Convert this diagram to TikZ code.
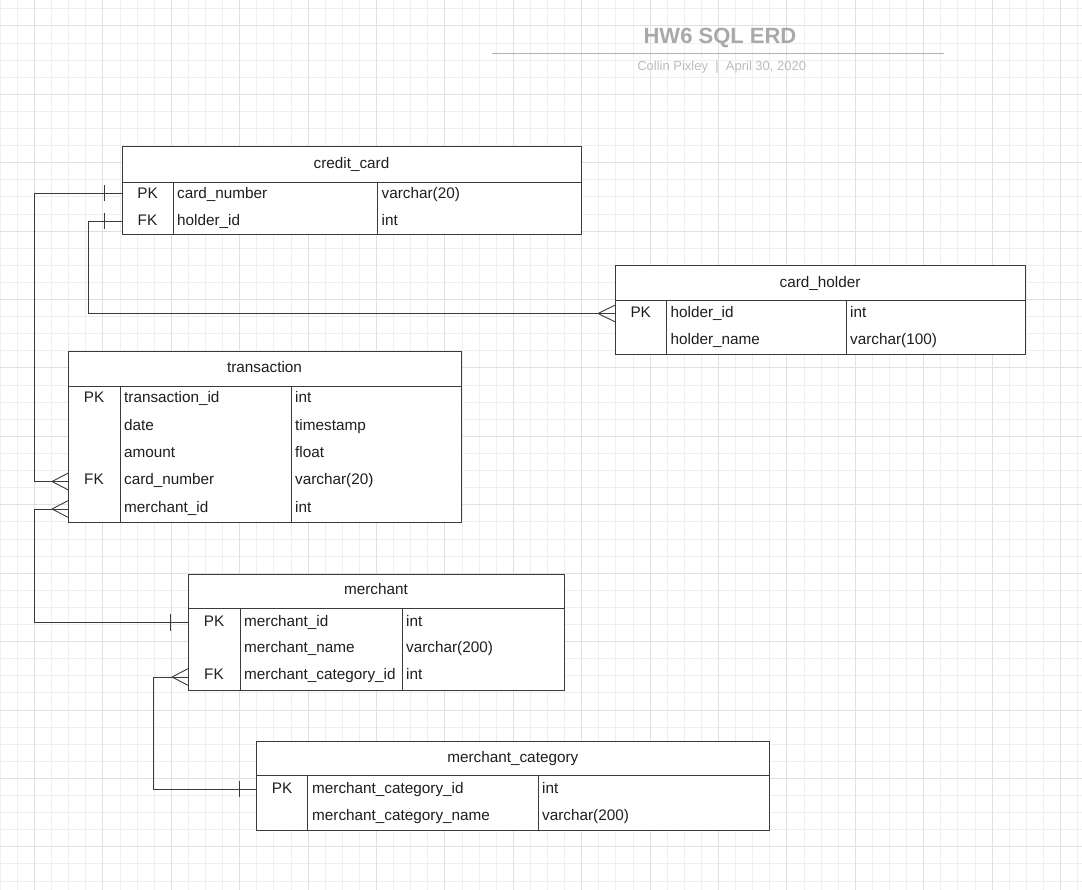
\documentclass[tikz,border=0pt]{standalone}
\usepackage{fontspec}
\setmainfont{Liberation Sans}
\usetikzlibrary{fit}
\definecolor{minorc}{HTML}{EFEFEF}
\definecolor{majorc}{HTML}{E0E0E0}
\definecolor{linec}{HTML}{3A3A3A}
\definecolor{textc}{HTML}{1E1E1E}
\definecolor{titlec}{HTML}{A9A9A9}
\definecolor{subc}{HTML}{BDBDBD}
\begin{document}
\begin{tikzpicture}[x=1pt,y=-1pt,
  tbl/.style={draw=linec, line width=1pt, fill=white, inner sep=0pt},
  tline/.style={draw=linec, line width=0.9pt},
  conn/.style={draw=linec, line width=0.9pt},
  txt/.style={font=\fontsize{15.3}{18}\selectfont, text=textc, inner sep=0pt, anchor=base},
  ltxt/.style={txt, anchor=base west},
  gminor/.style={draw=minorc, line width=1pt},
  gmajor/.style={draw=majorc, line width=1pt}]
\useasboundingbox (0,0) rectangle (1082,890);
\fill[white] (0,0) rectangle (1082,890);
% grid
\foreach \i in {0,...,63} \draw[gminor] ({0.3+17.1*\i},0) -- ++(0,890);
\foreach \i in {0,...,51} \draw[gminor] (0,{8.9+17.1*\i}) -- ++(1082,0);
\foreach \i in {0,...,15} \draw[gmajor] ({34.5+68.4*\i},0) -- ++(0,890);
\foreach \i in {0,...,12} \draw[gmajor] (0,{26+68.4*\i}) -- ++(1082,0);

% title
\node[font=\fontsize{22}{26}\selectfont\bfseries, text=titlec, inner sep=0pt, anchor=base] (title) at (720,43.3) {HW6 SQL ERD};
\coordinate (rl) at (492,53.5);
\coordinate (rr) at (944,53.5);
\draw[draw=titlec!90, line width=1.6pt] (rl) -- (rr);
\node[font=\fontsize{13}{16}\selectfont, text=subc, inner sep=0pt, anchor=base] (sub) at (721.7,71) {Collin Pixley\ \ |\ \ April 30, 2020};

% credit_card
\node[tbl, fit={(122,147)(581,235)}] (cc) {};
\draw[tline] (122,182) -- (581,182) (173,182) -- (173,235) (377.5,182) -- (377.5,235);
\node[txt] (cch) at (351.5,168.3) {credit\_card};
\node[txt] (cc1a) at (147.5,198.3) {PK};
\node[ltxt] (cc1b) at (177,198.3) {card\_number};
\node[ltxt] (cc1c) at (381.5,198.3) {varchar(20)};
\node[txt] (cc2a) at (147.5,226) {FK};
\node[ltxt] (cc2b) at (177,226) {holder\_id};
\node[ltxt] (cc2c) at (381.5,226) {int};
\coordinate (cc-r1) at (122,193.5);
\coordinate (cc-r2) at (122,221.5);

% card_holder
\node[tbl, fit={(615,266)(1025,355)}] (ch) {};
\draw[tline] (615,300.5) -- (1025,300.5) (666.5,300.5) -- (666.5,355) (846,300.5) -- (846,355);
\node[txt] (chh) at (820,287.7) {card\_holder};
\node[txt] (ch1a) at (640.7,317.7) {PK};
\node[ltxt] (ch1b) at (670.5,317.7) {holder\_id};
\node[ltxt] (ch1c) at (850,317.7) {int};
\node[ltxt] (ch2b) at (670.5,344.7) {holder\_name};
\node[ltxt] (ch2c) at (850,344.7) {varchar(100)};
\coordinate (ch-r1) at (615,313.5);

% transaction
\node[tbl, fit={(68,352)(461,522)}] (tx) {};
\draw[tline] (68,386) -- (461,386) (120,386) -- (120,522) (291,386) -- (291,522);
\node[txt] (txh) at (264.5,372.7) {transaction};
\node[txt] (tx1a) at (94,402.7) {PK};
\node[ltxt] (tx1b) at (124,402.7) {transaction\_id};
\node[ltxt] (tx1c) at (295,402.7) {int};
\node[ltxt] (tx2b) at (124,430.3) {date};
\node[ltxt] (tx2c) at (295,430.3) {timestamp};
\node[ltxt] (tx3b) at (124,457.7) {amount};
\node[ltxt] (tx3c) at (295,457.7) {float};
\node[txt] (tx4a) at (94,485) {FK};
\node[ltxt] (tx4b) at (124,485) {card\_number};
\node[ltxt] (tx4c) at (295,485) {varchar(20)};
\node[ltxt] (tx5b) at (124,512.5) {merchant\_id};
\node[ltxt] (tx5c) at (295,512.5) {int};
\coordinate (tx-r4) at (68,481.5);
\coordinate (tx-r5) at (68,509);

% merchant
\node[tbl, fit={(188,574)(564,690)}] (me) {};
\draw[tline] (188,608.5) -- (564,608.5) (240,608.5) -- (240,690) (402,608.5) -- (402,690);
\node[txt] (meh) at (376,594.7) {merchant};
\node[txt] (me1a) at (214,626) {PK};
\node[ltxt] (me1b) at (244,626) {merchant\_id};
\node[ltxt] (me1c) at (406,626) {int};
\node[ltxt] (me2b) at (244,652.7) {merchant\_name};
\node[ltxt] (me2c) at (406,652.7) {varchar(200)};
\node[txt] (me3a) at (214,679.3) {FK};
\node[ltxt] (me3b) at (244,679.3) {merchant\_category\_id};
\node[ltxt] (me3c) at (406,679.3) {int};
\coordinate (me-r1) at (188,622.3);
\coordinate (me-r3) at (188,677);

% merchant_category
\node[tbl, fit={(256.7,741)(769,830)}] (mc) {};
\draw[tline] (256.7,775.7) -- (769,775.7) (307.7,775.7) -- (307.7,830) (538,775.7) -- (538,830);
\node[txt] (mch) at (512.8,762.7) {merchant\_category};
\node[txt] (mc1a) at (282.2,793.3) {PK};
\node[ltxt] (mc1b) at (312,793.3) {merchant\_category\_id};
\node[ltxt] (mc1c) at (542,793.3) {int};
\node[ltxt] (mc2b) at (312,820) {merchant\_category\_name};
\node[ltxt] (mc2c) at (542,820) {varchar(200)};
\coordinate (mc-r1) at (256.7,789.3);

% connectors
\draw[conn] (cc-r1) -- ++(-88,0) |- (tx-r4);
\draw[conn] ([xshift=-18pt]cc-r1) ++(0,-8) -- ++(0,16);
\draw[conn] ([xshift=-16pt]tx-r4) -- ++(16,-8.3) ([xshift=-16pt]tx-r4) -- ++(16,8.3);

\draw[conn] (cc-r2) -- ++(-34,0) |- (ch-r1);
\draw[conn] ([xshift=-18pt]cc-r2) ++(0,-8) -- ++(0,16);
\draw[conn] ([xshift=-17pt]ch-r1) -- ++(17,-8.3) ([xshift=-17pt]ch-r1) -- ++(17,8.3);

\draw[conn] (tx-r5) -- ++(-34,0) |- (me-r1);
\draw[conn] ([xshift=-16pt]tx-r5) -- ++(16,-8.3) ([xshift=-16pt]tx-r5) -- ++(16,8.3);
\draw[conn] ([xshift=-17.5pt]me-r1) ++(0,-8.5) -- ++(0,17);

\draw[conn] (me-r3) -- ++(-35,0) |- (mc-r1);
\draw[conn] ([xshift=-16pt]me-r3) -- ++(16,-8.3) ([xshift=-16pt]me-r3) -- ++(16,8.3);
\draw[conn] ([xshift=-17.7pt]mc-r1) ++(0,-8) -- ++(0,16);
\end{tikzpicture}
\end{document}
